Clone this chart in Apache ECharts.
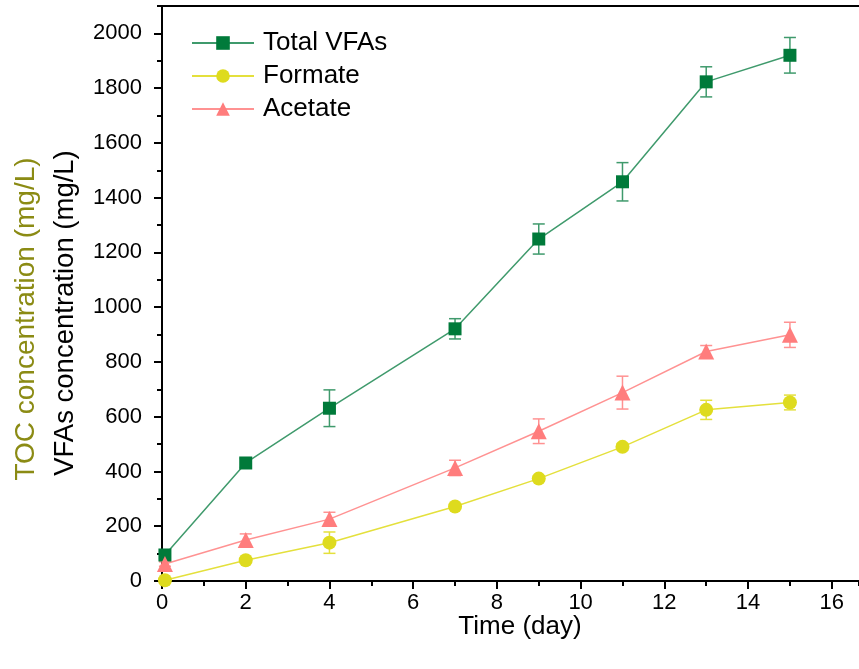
<!DOCTYPE html>
<html>
<head>
<meta charset="utf-8">
<script src="https://cdn.jsdelivr.net/npm/echarts@6/dist/echarts.min.js"></script>
<style>html,body{margin:0;padding:0;background:#fff;}#c{width:859px;height:669px;}</style>
</head>
<body>
<div id="c"></div>
<script>
const days = [0.07, 2, 4, 7, 9, 11, 13, 15];
const totalVFAs = [95, 431, 631, 921, 1249, 1458, 1823, 1920];
const totalErr = [12, 16, 67, 37, 55, 70, 55, 65];
const formate = [3, 76, 140, 272, 374, 490, 625, 652];
const formateErr = [0, 8, 39, 10, 10, 12, 35, 27];
const acetate = [62, 150, 226, 413, 547, 688, 838, 899];
const acetateErr = [8, 22, 25, 28, 45, 60, 22, 46];
const xTicks = [0, 2, 4, 6, 8, 10, 12, 14, 16];
const yTicks = [0, 200, 400, 600, 800, 1000, 1200, 1400, 1600, 1800, 2000];

const FONT = 'Liberation Sans, Arial, sans-serif';
const C_GREEN = '#007a3a', C_GREEN_L = '#3f9a6c';
const C_YEL = '#dedb1e', C_YEL_L = '#e4e03c';
const C_PINK = '#ff7d7d', C_PINK_L = '#ff9292';
const X_MAX = 16.65;

function pairs(vals) { return days.map((d, i) => [d, vals[i]]); }
function errData(vals, errs) { return days.map((d, i) => [d, vals[i], errs[i]]); }

function errSeries(vals, errs, color) {
  return {
    type: 'custom', xAxisIndex: 0, yAxisIndex: 0, z: 1, clip: false, silent: true,
    data: errData(vals, errs),
    renderItem: function (params, api) {
      const x = api.value(0), y = api.value(1), e = api.value(2);
      if (!e) return { type: 'group', children: [] };
      const t = api.coord([x, y + e]), b = api.coord([x, y - e]);
      const hw = 6;
      const st = { stroke: color, lineWidth: 1.5 };
      return { type: 'group', children: [
        { type: 'line', shape: { x1: t[0], y1: t[1], x2: b[0], y2: b[1] }, style: st },
        { type: 'line', shape: { x1: t[0] - hw, y1: t[1], x2: t[0] + hw, y2: t[1] }, style: st },
        { type: 'line', shape: { x1: b[0] - hw, y1: b[1], x2: b[0] + hw, y2: b[1] }, style: st }
      ]};
    }
  };
}

const axisLineStyle = { color: '#000', width: 2 };

const option = {
  animation: false,
  backgroundColor: '#fff',
  grid: { left: 162, right: 0, top: 6, bottom: 88, containLabel: false },
  legend: {
    left: 186, top: 25, orient: 'vertical',
    itemWidth: 62, itemHeight: 17, itemGap: 7,
    data: ['Total VFAs', 'Formate', 'Acetate'],
    textStyle: { fontFamily: FONT, fontSize: 26, color: '#000', lineHeight: 26, padding: [0, 0, 0, 4] }
  },
  xAxis: [
    { type: 'value', min: 0, max: X_MAX, interval: 2, position: 'bottom',
      axisLine: { lineStyle: axisLineStyle },
      axisTick: { inside: false, length: 8, lineStyle: { width: 2, color: '#000' } },
      axisLabel: { fontFamily: FONT, fontSize: 22, color: '#000', margin: 11, showMaxLabel: false,
        formatter: v => xTicks.indexOf(v) >= 0 ? String(v) : '' },
      splitLine: { show: false } },
    { type: 'value', min: 0, max: X_MAX, interval: 1, position: 'bottom',
      axisLine: { show: false },
      axisTick: { inside: false, length: 5, lineStyle: { width: 2, color: '#000' } },
      axisLabel: { show: false }, splitLine: { show: false } },
    { type: 'value', min: 0, max: X_MAX, position: 'top',
      axisLine: { lineStyle: axisLineStyle },
      axisTick: { show: false }, axisLabel: { show: false }, splitLine: { show: false } }
  ],
  yAxis: [
    { type: 'value', min: 0, max: 2100, interval: 200,
      axisLine: { show: true, lineStyle: axisLineStyle },
      axisTick: { show: true, inside: false, length: 8, lineStyle: { width: 2, color: '#000' } },
      axisLabel: { fontFamily: FONT, fontSize: 22, color: '#000', margin: 20, showMaxLabel: false,
        formatter: v => yTicks.indexOf(v) >= 0 ? String(v) : '' },
      splitLine: { show: false } },
    { type: 'value', min: 0, max: 2100, interval: 100, position: 'left',
      axisLine: { show: false },
      axisTick: { show: true, inside: false, length: 5, lineStyle: { width: 2, color: '#000' } },
      axisLabel: { show: false }, splitLine: { show: false } }
  ],
  graphic: [
    { type: 'text', x: 520, y: 627, style: { text: 'Time (day)', font: '26px ' + FONT, fill: '#000', textAlign: 'center', textVerticalAlign: 'middle' } },
    { type: 'text', x: 65, y: 313, rotation: Math.PI / 2, style: { text: 'VFAs concentration (mg/L)', font: '27.5px ' + FONT, fill: '#000', textAlign: 'center', textVerticalAlign: 'middle' } },
    { type: 'text', x: 26, y: 319, rotation: Math.PI / 2, style: { text: 'TOC concentration (mg/L)', font: '28px ' + FONT, fill: '#8b8b14', textAlign: 'center', textVerticalAlign: 'middle' } }
  ],
  series: [
    errSeries(totalVFAs, totalErr, C_GREEN_L),
    errSeries(formate, formateErr, C_YEL_L),
    errSeries(acetate, acetateErr, C_PINK_L),
    { name: 'Total VFAs', type: 'line', data: pairs(totalVFAs), clip: false, z: 3,
      symbol: 'rect', symbolSize: 13, itemStyle: { color: C_GREEN },
      lineStyle: { color: C_GREEN_L, width: 1.5 } },
    { name: 'Formate', type: 'line', data: pairs(formate), clip: false, z: 3,
      symbol: 'circle', symbolSize: 14, itemStyle: { color: C_YEL },
      lineStyle: { color: C_YEL_L, width: 1.5 } },
    { name: 'Acetate', type: 'line', data: pairs(acetate), clip: false, z: 3,
      symbol: 'triangle', symbolSize: 16, itemStyle: { color: C_PINK },
      lineStyle: { color: C_PINK_L, width: 1.5 } }
  ]
};

const chart = echarts.init(document.getElementById('c'), null, { renderer: 'canvas' });
chart.setOption(option);
</script>
</body>
</html>
